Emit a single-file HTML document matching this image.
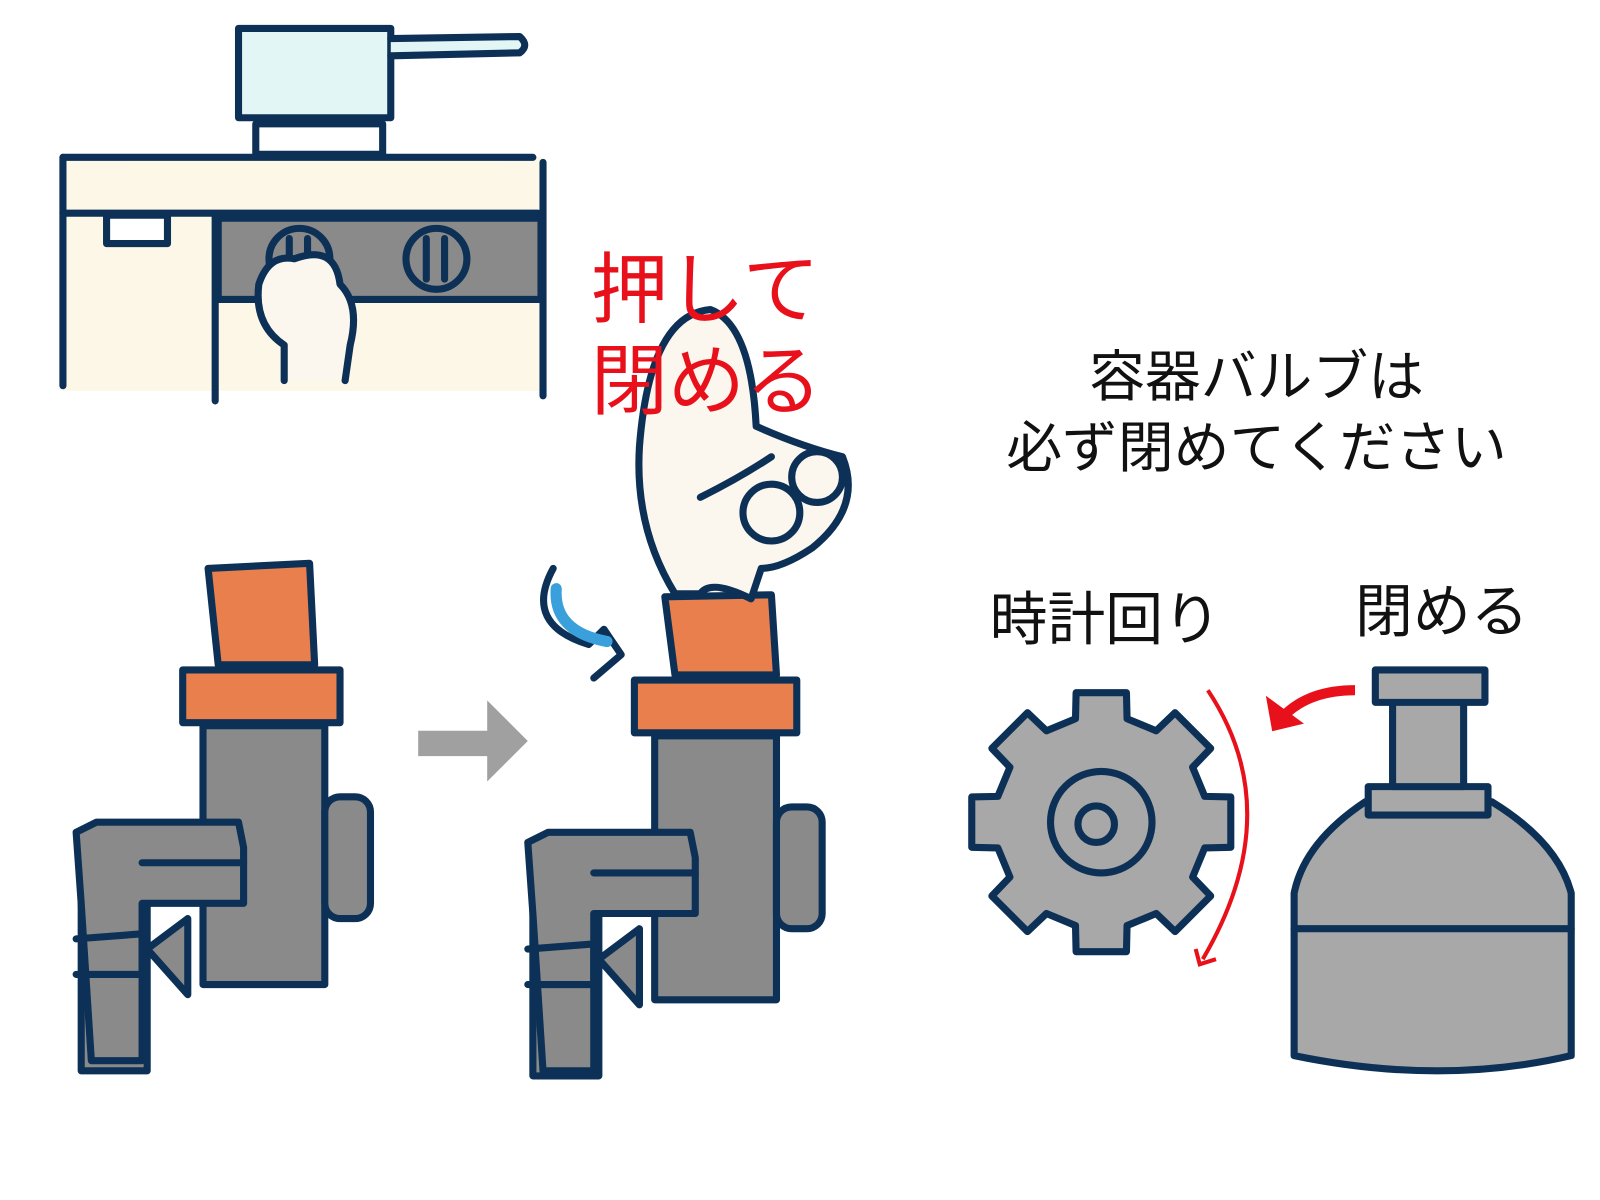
<!DOCTYPE html>
<html><head><meta charset="utf-8"><style>
html,body{margin:0;padding:0;background:#fff;}
svg{display:block}
text{font-family:"Liberation Sans","Noto Sans CJK JP",sans-serif;}
</style></head><body>
<svg width="1600" height="1200" viewBox="0 0 1600 1200" xmlns="http://www.w3.org/2000/svg">
<g transform="scale(1.015)">
<g stroke="#0d3156" stroke-width="7" stroke-linejoin="round" stroke-linecap="round">
<!-- pot -->
<rect x="235" y="28" width="150" height="88" fill="#e2f6f6"/>
<path d="M385 38 L512 36 Q522 45 512 52 L385 55" fill="#e2f6f6"/>
<rect x="252" y="122" width="125" height="30" fill="#fff"/>
<!-- counter -->
<rect x="62" y="155" width="473" height="230" fill="#fcf7e6" stroke="none"/>
<line x1="62" y1="155" x2="525" y2="155"/>
<line x1="62" y1="155" x2="62" y2="380"/>
<line x1="535" y1="160" x2="535" y2="390"/>
<line x1="62" y1="210" x2="530" y2="210"/>
<rect x="105" y="212" width="60" height="28" fill="#fff"/>
<line x1="212" y1="212" x2="212" y2="395"/>
<rect x="215" y="215" width="318" height="80" fill="#8a8a8a"/>
<circle cx="295" cy="255" r="30" fill="#8a8a8a"/>
<line x1="285" y1="235" x2="285" y2="275"/><line x1="303" y1="235" x2="303" y2="275"/>
<circle cx="430" cy="255" r="30" fill="#8a8a8a"/>
<line x1="420" y1="235" x2="420" y2="275"/><line x1="438" y1="235" x2="438" y2="275"/>
<path d="M280 375 L280 340 Q250 320 255 280 Q265 250 290 255 Q330 240 335 280 Q355 300 345 340 L340 375" fill="#fcf7ee"/>
<!-- left valve -->
<rect x="80" y="850" width="65" height="205" fill="#8a8a8a"/>
<rect x="200" y="715" width="120" height="255" fill="#8a8a8a"/>
<rect x="320" y="785" width="45" height="120" rx="15" fill="#8a8a8a"/>
<path d="M75 820 L95 810 L235 810 L240 835 L240 890 L140 890 L140 1045 L90 1045 L80 890 Z" fill="#8a8a8a"/>
<line x1="140" y1="850" x2="240" y2="850"/>
<path d="M75 925 L140 920 L140 960 L75 960" fill="none"/>
<path d="M145 935 L185 905 L185 980 Z" fill="#8a8a8a"/>
<path d="M180 660 L335 660 L335 712 L180 712 Z" fill="#e97f4d"/>
<path d="M205 560 L305 555 L310 655 L215 655 Z" fill="#e97f4d"/>
<!-- arrow grey -->
<path d="M412 720 L480 720 L480 690 L520 730 L480 770 L480 745 L412 745 Z" fill="#a0a0a0" stroke="none"/>
<!-- right valve -->
<rect x="525" y="860" width="65" height="200" fill="#8a8a8a"/>
<rect x="645" y="725" width="120" height="260" fill="#8a8a8a"/>
<rect x="765" y="795" width="45" height="120" rx="15" fill="#8a8a8a"/>
<path d="M520 830 L540 820 L680 820 L685 845 L685 900 L585 900 L585 1055 L535 1055 L525 900 Z" fill="#8a8a8a"/>
<line x1="585" y1="860" x2="685" y2="860"/>
<path d="M520 935 L585 930 L585 970 L520 970" fill="none"/>
<path d="M590 945 L630 915 L630 990 Z" fill="#8a8a8a"/>
<path d="M625 670 L785 670 L785 722 L625 722 Z" fill="#e97f4d"/>
<path d="M655 588 L760 586 L765 665 L665 665 Z" fill="#e97f4d"/>
<!-- hand -->
<path d="M665 585 Q625 520 630 440 Q640 310 700 305 Q740 320 745 420 Q790 440 830 450 Q850 500 800 540 Q770 560 750 560 L740 590 Q700 570 690 585 Z" fill="#fcf7ee"/>
<path d="M690 490 Q730 470 760 450" fill="none"/>
<circle cx="805" cy="470" r="25" fill="#fcf7ee"/>
<circle cx="760" cy="505" r="28" fill="#fcf7ee"/>
<!-- blue arrow -->
<path d="M545 560 Q515 615 580 635 L595 620 L612 645 L585 668" fill="none" stroke="#0d3156"/>
<path d="M548 580 Q545 622 598 632" fill="none" stroke="#3aa0dc" stroke-width="11"/>
<!-- gear -->
<path d="M1212.6 785.2 L1212.6 834.8 L1186.9 835.4 L1175 864.1 L1192.8 882.7 L1157.7 917.8 L1139.1 900 L1110.4 911.9 L1109.8 937.6 L1060.2 937.6 L1059.6 911.9 L1031 900 L1012.3 917.8 L977.2 882.7 L995 864.1 L983.1 835.4 L957.4 834.8 L957.4 785.2 L983.1 784.6 L995 755.9 L977.2 737.3 L1012.3 702.2 L1031 720 L1059.6 708.1 L1060.2 682.4 L1109.8 682.4 L1110.4 708.1 L1139.1 720 L1157.7 702.2 L1192.8 737.3 L1175 755.9 L1186.9 784.6 Z" fill="#a8a8a8"/>
<circle cx="1085" cy="810" r="50" fill="#a8a8a8"/>
<circle cx="1080" cy="812" r="18" fill="#a8a8a8"/>
<!-- cylinder -->
<path d="M1275 1040 L1275 880 Q1285 830 1345 790 L1470 790 Q1535 830 1548 880 L1548 1040 Q1420 1070 1275 1040 Z" fill="#a8a8a8"/>
<line x1="1275" y1="915" x2="1548" y2="915"/>
<rect x="1348" y="775" width="118" height="28" fill="#a8a8a8"/>
<rect x="1372" y="690" width="70" height="85" fill="#a8a8a8"/>
<rect x="1355" y="660" width="108" height="32" fill="#a8a8a8"/>
</g>
<!-- red arrows -->
<path d="M1190 680 Q1270 800 1185 945" fill="none" stroke="#e8101a" stroke-width="4"/>
<path d="M1178 935 L1182 950 L1198 945" fill="none" stroke="#e8101a" stroke-width="4"/>
<path d="M1335 680 Q1290 680 1265 705" fill="none" stroke="#e8101a" stroke-width="10"/>
<path d="M1250 690 L1255 718 L1280 712 Z" fill="#e8101a" stroke="#e8101a" stroke-width="4"/>
<text x="582" y="312" font-size="76" fill="#e8101a">押して</text>
<text x="582" y="402" font-size="76" fill="#e8101a">閉める</text>
<text x="1238" y="390" font-size="55" text-anchor="middle" fill="#111">容器バルブは</text>
<text x="1238" y="460" font-size="55" text-anchor="middle" fill="#111">必ず閉めてください</text>
<text x="975" y="630" font-size="57" fill="#111">時計回り</text>
<text x="1335" y="622" font-size="57" fill="#111">閉める</text>
</g>
</svg>
</body></html>
